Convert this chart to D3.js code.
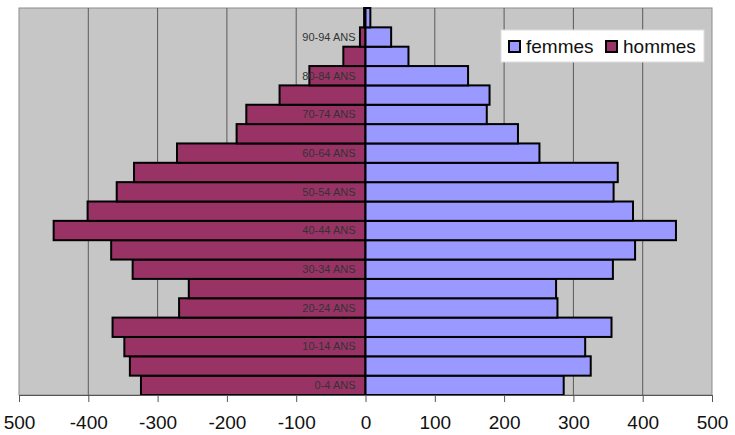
<!DOCTYPE html>
<html>
<head>
<meta charset="utf-8">
<script src="https://cdn.jsdelivr.net/npm/d3@7"></script>
<style>
  body { margin: 0; background: #fff; }
  svg { display: block; font-family: Arial, "Liberation Sans", sans-serif; }
</style>
</head>
<body>
<script>
// age groups, bottom to top
var ageGroups = ["0-4", "5-9", "10-14", "15-19", "20-24", "25-29", "30-34", "35-39",
    "40-44", "45-49", "50-54", "55-59", "60-64", "65-69", "70-74", "75-79",
    "80-84", "85-89", "90-94", "95+"];
var hommes = [324, 340, 348, 365, 269, 255, 336, 367, 450, 401, 359, 334, 272, 186,
    172, 124, 81, 32, 8, 2];
var femmes = [286, 325, 317, 355, 277, 275, 357, 389, 448, 386, 358, 364, 251, 220,
    175, 179, 148, 62, 37, 7];
var shownLabels = ["0-4", "10-14", "20-24", "30-34", "40-44", "50-54", "60-64",
    "70-74", "80-84", "90-94"];
var xTicks = [-500, -400, -300, -200, -100, 0, 100, 200, 300, 400, 500];
var xTickLabels = ["500", "-400", "-300", "-200", "-100", "0", "100", "200", "300", "400", "500"];
var seriesColors = {femmes: "#9999ff", hommes: "#993366"};

var width = 735, height = 435;
var plotLeft = 19, plotRight = 712, plotTop = 8, plotBottom = 395;

var svg = d3.select('body').append('svg')
    .attr('width', width)
    .attr('height', height);

var x = d3.scaleLinear().domain([-500, 500]).range([plotLeft, plotRight]);
var y = d3.scaleBand().domain(ageGroups.slice().reverse()).range([plotTop, plotBottom]).padding(0);

// plot background
svg.append('rect')
    .attr('x', plotLeft).attr('y', plotTop)
    .attr('width', plotRight - plotLeft).attr('height', plotBottom - plotTop)
    .attr('fill', '#c6c6c6')
    .attr('stroke', '#8c8c8c')
    .attr('stroke-width', 1);

// vertical gridlines
svg.append('g').selectAll('line')
    .data(xTicks.filter(function (d) { return d > -500 && d < 500; }))
    .enter().append('line')
    .attr('x1', function (d) { return x(d); })
    .attr('x2', function (d) { return x(d); })
    .attr('y1', plotTop).attr('y2', plotBottom)
    .attr('stroke', '#5a5a5a')
    .attr('stroke-width', 1);

var rows = ageGroups.map(function (a, i) {
    return {age: a, hommes: hommes[i], femmes: femmes[i]};
});

// hommes (left)
svg.append('g').selectAll('rect')
    .data(rows)
    .enter().append('rect')
    .attr('x', function (d) { return x(-d.hommes); })
    .attr('y', function (d) { return y(d.age); })
    .attr('width', function (d) { return x(0) - x(-d.hommes); })
    .attr('height', y.bandwidth())
    .attr('fill', seriesColors.hommes)
    .attr('stroke', '#000')
    .attr('stroke-width', 2);

// femmes (right)
svg.append('g').selectAll('rect')
    .data(rows)
    .enter().append('rect')
    .attr('x', x(0))
    .attr('y', function (d) { return y(d.age); })
    .attr('width', function (d) { return x(d.femmes) - x(0); })
    .attr('height', y.bandwidth())
    .attr('fill', seriesColors.femmes)
    .attr('stroke', '#000')
    .attr('stroke-width', 2);

// age labels
svg.append('g').selectAll('text')
    .data(shownLabels)
    .enter().append('text')
    .attr('x', x(0) - 10)
    .attr('y', function (d) { return y(d) + y.bandwidth() / 2; })
    .attr('dy', '0.35em')
    .attr('text-anchor', 'end')
    .attr('font-size', 11)
    .attr('fill', '#333')
    .text(function (d) { return d + " ANS"; });

// x axis
var xAxis = d3.axisBottom(x)
    .tickValues(xTicks)
    .tickSize(7)
    .tickPadding(14)
    .tickFormat(function (d, i) { return xTickLabels[i]; });

var gx = svg.append('g')
    .attr('transform', 'translate(0,' + plotBottom + ')')
    .call(xAxis);
gx.select('.domain').attr('stroke', '#555');
gx.selectAll('.tick line').attr('stroke', '#555');
gx.selectAll('.tick text')
    .attr('font-size', 19)
    .attr('font-family', 'Arial, "Liberation Sans", sans-serif')
    .attr('fill', '#111');

// legend
var legend = svg.append('g').attr('transform', 'translate(501,30)');
legend.append('rect')
    .attr('width', 203).attr('height', 32)
    .attr('fill', '#fff')
    .attr('stroke', '#ddd');
var items = [{name: "femmes", x: 8}, {name: "hommes", x: 105}];
items.forEach(function (it) {
    legend.append('rect')
        .attr('x', it.x).attr('y', 11)
        .attr('width', 11).attr('height', 11)
        .attr('fill', seriesColors[it.name])
        .attr('stroke', '#000')
        .attr('stroke-width', 2);
    legend.append('text')
        .attr('x', it.x + 17).attr('y', 16)
        .attr('dy', '0.35em')
        .attr('font-size', 19)
        .attr('fill', '#111')
        .text(it.name);
});
</script>
</body>
</html>
